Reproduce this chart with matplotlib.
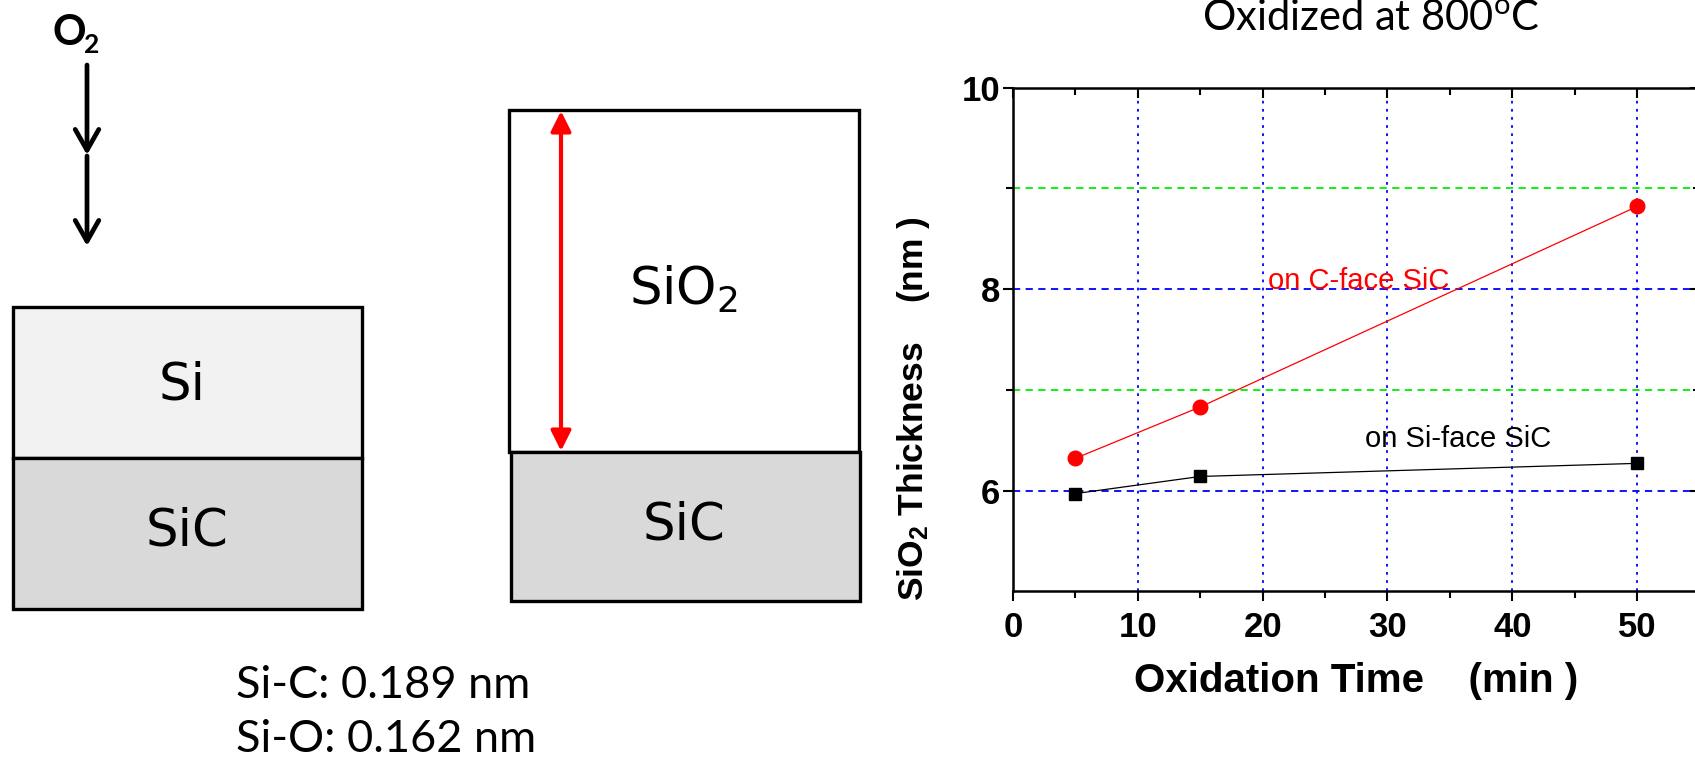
import numpy as np
import matplotlib
matplotlib.use("Agg")
import matplotlib.pyplot as plt
from matplotlib.patches import Rectangle, FancyArrowPatch

plt.rcParams['mathtext.default'] = 'regular'

# data
time_c = [5, 15, 50]
thick_c = [6.32, 6.83, 8.82]      # on C-face SiC
time_si = [5, 15, 50]
thick_si = [5.97, 6.14, 6.27]     # on Si-face SiC

x_major = [0, 10, 20, 30, 40, 50]
y_major = [6, 8, 10]
y_minor = [7, 9]
blue_h = [6, 8]
green_h = [7, 9]

bond_lines = ["Si-C: 0.189 nm", "Si-O: 0.162 nm"]

W, H = 1695, 758
fig = plt.figure(figsize=(W / 100, H / 100), dpi=100)

arial = ['Liberation Sans', 'DejaVu Sans']
cal = ['Lato', 'DejaVu Sans']

# ---- left part: layer sketch, in pixel coords ----
d = fig.add_axes([0, 0, 1, 1])
d.set_xlim(0, W)
d.set_ylim(H, 0)
d.axis('off')

def box(x0, y0, x1, y1, fc):
    d.add_patch(Rectangle((x0, y0), x1 - x0, y1 - y0, fc=fc, ec='black', lw=2.4))

box(13, 307, 362, 458, '#f2f2f2')
box(13, 458, 362, 609, '#d9d9d9')
box(509, 110, 859, 452, 'white')
box(511, 452, 860, 601, '#d9d9d9')

d.text(182, 385, "Si", fontsize=37, ha='center', va='center', family='DejaVu Sans')
d.text(187, 532, "SiC", fontsize=37, ha='center', va='center', family='DejaVu Sans')
d.text(684, 526, "SiC", fontsize=37, ha='center', va='center', family='DejaVu Sans')
d.text(684, 290, "SiO$_2$", fontsize=37, ha='center', va='center', family='DejaVu Sans')

# O2 and the two arrows
d.text(53, 45, "O", fontsize=30, fontweight='bold', ha='left', va='baseline', family=cal)
d.text(84, 53, "2", fontsize=19, fontweight='bold', ha='left', va='baseline', family=cal)
for y0, y1 in [(65, 155), (156, 246)]:
    d.annotate('', xy=(87, y1), xytext=(87, y0),
               arrowprops=dict(arrowstyle='->,head_length=1.5,head_width=0.85', lw=3.4, color='black',
                               shrinkA=0, shrinkB=0))

# red thickness arrow
d.add_patch(FancyArrowPatch((561, 111), (561, 451), arrowstyle='<|-|>,head_length=1.1,head_width=0.55',
                            lw=3, color='red', mutation_scale=11, shrinkA=0, shrinkB=0))

d.text(236, 685, bond_lines[0], fontsize=32.5, ha='left', va='center', family=cal)
d.text(236, 740, bond_lines[1], fontsize=32.5, ha='left', va='center', family=cal)

# ---- right part: the chart ----
left, right = 1013, 1699.5
top, bottom = 87.6, 591.3
ax = fig.add_axes([left / W, 1 - bottom / H, (right - left) / W, (bottom - top) / H])
ax.set_xlim(0, 55)
ax.set_ylim(5, 10)

for v in x_major[1:]:
    ax.axvline(v, color='#0000ff', ls=(0, (1.5, 3)), lw=1.3, zorder=1)
for v in blue_h:
    ax.axhline(v, color='#0000ff', ls=(0, (4, 3)), lw=1.3, zorder=1)
for v in green_h:
    ax.axhline(v, color='#00ee00', ls=(0, (4, 3)), lw=1.3, zorder=1)

ax.plot(time_c, thick_c, color='red', lw=0.9, marker='o', ms=10.5, zorder=3)
ax.plot(time_si, thick_si, color='black', lw=0.9, marker='s', ms=8, zorder=3)

ax.text(20.4, 8.0, "on C-face SiC", color='red', fontsize=21, family=arial, va='baseline')
ax.text(28.2, 6.43, "on Si-face SiC", color='black', fontsize=21, family=arial, va='baseline')

ax.set_xticks(x_major)
ax.set_xticks([5, 15, 25, 35, 45], minor=True)
ax.set_yticks(y_major)
ax.set_yticks(y_minor, minor=True)
ax.tick_params(which='both', top=True, right=True, width=1.5)
ax.tick_params(which='major', length=7)
ax.tick_params(which='minor', length=5)
for lab in ax.get_xticklabels() + ax.get_yticklabels():
    lab.set_family(arial)
    lab.set_fontweight('bold')
    lab.set_fontsize(25)
ax.xaxis.set_tick_params(pad=7)
ax.yaxis.set_tick_params(pad=2)
# top and right ticks point inward
for t in ax.xaxis.get_major_ticks() + ax.xaxis.get_minor_ticks():
    t.tick2line.set_marker(matplotlib.lines.TICKDOWN)
for t in ax.yaxis.get_major_ticks() + ax.yaxis.get_minor_ticks():
    t.tick2line.set_marker(matplotlib.lines.TICKLEFT)

for s in ax.spines.values():
    s.set_linewidth(1.8)

ax.set_xlabel("Oxidation Time    (min )", fontsize=29, fontweight='bold', family=arial, labelpad=13)
ax.set_ylabel("SiO$_2$ Thickness    (nm )", fontsize=25.5, fontweight='bold', family=arial)
ax.yaxis.set_label_coords(-0.118, 0.362)

fig.text(1371 / W, 1 - 30 / H, "Oxidized at 800$^{o}$C", fontsize=30, ha='center', va='baseline', family=cal)

fig.savefig("out.png", dpi=100)
